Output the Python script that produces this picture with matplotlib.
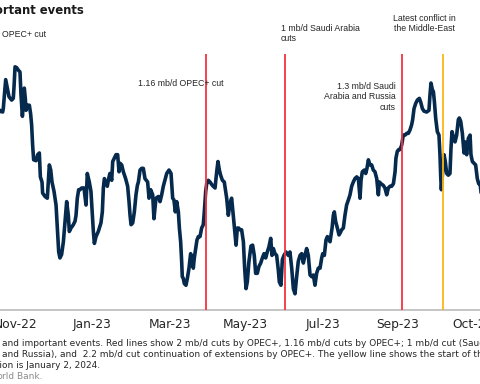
import numpy as np
import matplotlib
matplotlib.use('Agg')
import matplotlib.pyplot as plt

# Brent price, $/bbl. x = days since 2022-10-22
start = np.datetime64('2022-10-22')

days = [-20, -14, -10, -5,
        0.0, 2.1, 2.6, 4.5, 5.8, 7.1, 9.2, 10.5, 11.1, 11.9, 13.2, 14.5, 15.8, 16.6, 17.7,
        18.4, 19.2, 20.0, 20.6, 21.6, 23.2, 24.2, 25.0, 25.8, 26.6, 28.5, 29.8, 31.1, 31.9,
        33.2, 33.7, 35.6, 37.4, 39.0, 40.1, 41.1, 42.7, 44.3, 45.3, 46.4, 47.4, 48.7, 50.1,
        51.4, 52.7, 54.0, 54.8, 56.1, 58.0, 59.3, 60.1, 61.1, 62.2,
        63.2, 64.6, 66.4, 68.0, 69.0, 70.6, 71.9, 72.7, 73.8, 74.6, 75.9, 77.7, 79.8, 80.9,
        81.7, 82.5, 83.5, 84.8, 85.9, 86.9, 88.3, 89.1, 90.4, 91.7, 93.0, 94.1, 94.9, 96.2,
        97.5, 99.3, 100.9, 102.0, 102.8, 103.6, 104.9, 106.2, 107.5, 108.6, 109.4, 110.7,
        112.0, 113.3, 114.6, 116.7, 117.8, 119.1, 120.7, 121.7, 123.3, 125.2,
        126.5, 127.8, 129.1, 130.4, 131.8, 133.6, 135.2, 136.5, 137.5, 138.6, 139.7, 141.0,
        141.8, 142.8, 143.6, 144.1, 144.9, 145.7, 147.0, 148.1, 149.4, 150.7, 152.0, 152.8,
        153.6, 154.7, 155.7, 156.8, 158.1, 159.4, 160.7, 161.5, 162.6, 163.4, 164.7, 166.0,
        167.9, 170.0, 171.3, 172.3, 173.4, 174.4, 175.8, 177.3, 179.2, 180.5, 181.8, 183.1,
        184.4, 185.8, 186.6, 187.6, 188.7,
        189.7, 191.0, 192.4, 193.4, 194.5, 195.5, 196.8, 198.4, 199.7, 201.0, 202.1, 203.4,
        204.7, 206.1, 207.4, 208.7, 210.0, 211.3, 212.6, 214.0, 215.0, 216.1, 217.4, 218.7,
        220.0, 220.8, 222.1, 223.2, 224.5, 226.1, 227.9, 229.2, 230.6, 231.9, 233.2, 234.5,
        235.8, 237.2, 238.5, 239.8, 241.1, 242.4, 243.7, 245.1, 246.4, 247.7, 249.0, 250.3,
        251.6,
        253.0, 254.3, 255.1, 256.4, 257.7, 258.8, 260.9, 262.5, 263.5, 264.3, 265.3, 266.7,
        268.0, 268.8, 270.1, 271.4, 272.7, 274.0, 275.4, 276.7, 278.0, 279.3, 280.6, 282.0,
        283.3, 284.6, 285.4, 286.4, 288.0, 289.1, 290.1, 291.2, 292.5, 293.8, 295.1, 296.4,
        297.8, 299.1, 299.9, 301.2, 303.0, 304.3, 305.7, 307.0, 308.3, 309.6, 311.0, 312.3,
        313.0, 314.1, 315.2,
        316.2, 317.5, 318.8, 320.2, 321.5, 322.8, 324.1, 325.4, 326.2, 327.3, 328.6, 329.9,
        331.5, 332.5, 333.9, 335.2, 337.3, 339.1, 339.9, 340.7, 341.8, 342.6, 343.4, 344.4,
        345.7, 347.0, 347.8, 348.4, 348.9, 349.9, 351.0, 352.0, 353.1, 354.4, 355.7, 356.5,
        357.3, 358.4, 359.7, 361.0, 362.3, 363.1, 364.2, 365.5, 366.8, 367.6, 368.9, 370.2,
        371.6, 372.3, 373.4, 374.7, 376.0, 377.3, 378.4, 379.5,
        382, 390, 398, 405, 412, 416, 424, 430, 437]

brent = [93.4, 94.3, 92.5, 92.0,
         93.4, 93.2, 93.6, 97.0, 96.0, 95.0, 94.6, 94.8, 96.2, 98.5, 98.4, 98.1, 97.9, 95.2, 92.7,
         94.0, 96.0, 94.8, 93.4, 94.0, 94.0, 93.0, 91.7, 89.3, 87.6, 87.5, 88.2, 88.4, 85.6,
         85.0, 83.7, 83.3, 83.1, 87.0, 86.4, 85.0, 83.9, 82.3, 79.6, 76.8, 76.1, 76.5, 78.0,
         80.4, 82.7, 81.1, 79.2, 79.6, 80.0, 80.4, 81.1, 83.1, 84.1,
         84.1, 84.3, 84.3, 82.3, 86.0, 85.0, 83.9, 81.9, 79.2, 77.8, 78.6, 79.2, 80.2, 81.5,
         84.3, 85.4, 85.0, 84.5, 85.4, 86.0, 85.2, 87.4, 87.8, 88.2, 88.2, 86.2, 87.2, 87.0,
         86.2, 85.4, 84.5, 82.7, 81.1, 80.0, 80.2, 81.5, 83.5, 84.6, 85.0, 86.4,
         86.6, 86.6, 85.4, 85.0, 83.1, 84.1, 83.5, 80.7, 83.1, 83.3,
         82.7, 83.5, 84.5, 85.2, 86.0, 86.4, 86.0, 83.1, 82.9, 81.5, 82.7, 81.5,
         79.6, 78.0, 75.7, 73.9, 73.7, 73.1, 72.9, 73.7, 74.9, 76.6, 76.1, 74.9,
         76.1, 77.2, 78.2, 78.6, 78.6, 79.6, 80.0, 81.5, 83.9, 84.8, 85.2, 85.0,
         84.6, 84.3, 86.2, 87.4, 86.4, 85.8, 85.2, 85.0, 83.1, 81.1, 82.5, 83.1,
         81.1, 78.8, 77.6, 79.6, 79.6,
         79.4, 79.4, 78.0, 74.9, 72.5, 73.3, 75.7, 77.5, 77.6, 76.4, 74.3, 74.3,
         75.1, 75.5, 76.1, 76.6, 76.1, 76.8, 77.4, 78.4, 76.4, 77.2, 76.6, 76.4,
         74.7, 73.3, 72.9, 75.9, 76.4, 76.8, 76.4, 76.8, 74.9, 72.5, 71.9, 73.9,
         75.7, 76.4, 76.6, 75.5, 76.4, 77.2, 76.4, 74.1, 73.9, 74.1, 72.9, 74.3,
         74.9,
         74.9, 76.1, 76.6, 76.4, 78.2, 78.6, 78.0, 79.6, 81.1, 81.5, 80.4, 79.6,
         78.8, 79.0, 79.4, 79.6, 81.1, 82.3, 82.9, 83.5, 84.5, 85.0, 85.4, 85.6,
         85.4, 83.1, 85.2, 86.2, 86.4, 86.0, 86.6, 87.6, 87.0, 87.0, 86.4, 86.2,
         85.4, 83.5, 85.0, 84.8, 84.6, 84.3, 83.5, 84.3, 84.5, 84.5, 84.8, 86.2,
         87.8, 88.6, 88.8,
         88.8, 89.3, 90.5, 90.5, 90.7, 90.7, 91.1, 91.7, 92.3, 93.6, 94.2, 94.6,
         94.8, 94.4, 93.6, 93.3, 93.2, 93.4, 95.2, 96.6, 95.8, 95.6, 94.4, 92.5,
         90.9, 90.5, 88.2, 85.6, 84.1, 86.2, 88.2, 87.4, 86.0, 85.8, 86.0, 88.9,
         90.9, 90.3, 89.7, 90.5, 92.3, 92.5, 92.1, 90.7, 88.4, 89.7, 88.2, 90.1,
         90.5, 88.2, 87.4, 87.2, 87.0, 85.4, 84.8, 84.8,
         81.6, 77.4, 80.6, 78.9, 75.8, 73.2, 76.6, 79.1, 75.9]

red_events = ['2022-10-05', '2023-04-03', '2023-06-04', '2023-09-05']
yellow_event = '2023-10-07'

tick_dates = ['2022-11-03', '2023-01-03', '2023-03-05', '2023-05-04',
              '2023-07-04', '2023-09-01', '2023-10-31']
tick_labels = ['Nov-22', 'Jan-23', 'Mar-23', 'May-23', 'Jul-23', 'Sep-23', 'Oct-23']


def day_of(s):
    return int((np.datetime64(s) - start).astype(int))


W, H = 480, 384
PX_DAY = 1.265
x_lo, x_hi = -60, 437

def fx(px):
    return px / W

def fy(py):
    return 1 - py / H


fig = plt.figure(figsize=(4.8, 3.84), dpi=100)
ax = fig.add_axes([fx(x_lo * PX_DAY), fy(310), (x_hi - x_lo) * PX_DAY / W, 256 / H])
ax.set_xlim(x_lo, x_hi)
ax.set_ylim(70, 100)

ax.plot(days, brent, color='#062a4d', lw=2.6, solid_joinstyle='round', zorder=2)
for d in red_events:
    ax.axvline(day_of(d), color='#f4333f', lw=1.3, zorder=3)
ax.axvline(day_of(yellow_event), color='#fdb515', lw=1.3, zorder=3)

for s in ['top', 'left', 'right']:
    ax.spines[s].set_visible(False)
ax.spines['bottom'].set_color('#c0c0c0')
ax.spines['bottom'].set_linewidth(1.3)
ax.set_yticks([])
ax.set_xticks([day_of(t) for t in tick_dates])
ax.set_xticklabels(tick_labels, fontsize=8.8, color='#262626', family='DejaVu Sans')
ax.tick_params(axis='x', length=0, pad=6)

# title (cut off on the left in the reference)
fig.text(fx(84), fy(14), 'Brent oil prices and important events', ha='right', va='baseline',
         fontsize=8.4, fontweight='bold', color='#1a1a1a', family='DejaVu Sans')

ann = dict(fontsize=6.3, color='#262626', family='Liberation Sans')
fig.text(fx(46), fy(37), '2 mb/d OPEC+ cut', ha='right', va='baseline', **ann)
fig.text(fx(138), fy(86), '1.16 mb/d OPEC+ cut', ha='left', va='baseline', **ann)
fig.text(fx(281), fy(24), '1 mb/d Saudi Arabia\ncuts', ha='left', va='top',
         multialignment='left', **ann)
fig.text(fx(424), fy(14), 'Latest conflict in\nthe Middle-East', ha='center', va='top',
         multialignment='center', **ann)
fig.text(fx(396), fy(82), '1.3 mb/d Saudi\nArabia and Russia\ncuts', ha='right', va='top',
         multialignment='right', **ann)

# notes below the chart, clipped on both sides
NOTE_FS = 6.5
note = dict(fontsize=NOTE_FS, color='#262626', family='DejaVu Sans', va='baseline')
lines = [
    ('Note: Figure shows daily Brent oil prices ',
     'and important events. Red lines show 2 mb/d cuts by OPEC+, 1.16 mb/d cuts by OPEC+; '
     '1 mb/d cut (Saudi Arabia), 1.3 mb/d cut (Saudi Arabia', 346),
    ('(Saudi Arabia ',
     'and Russia), and  2.2 mb/d cut continuation of extensions by OPEC+. The yellow line '
     'shows the start of the Middle East conflict.', 357),
    ('Last observati', 'on is January 2, 2024.', 367.5),
]
for pre, vis, y in lines:
    fig.text(fx(2.5), fy(y), pre, ha='right', **note)
    fig.text(fx(2.5), fy(y), vis, ha='left', **note)
fig.text(fx(2.5), fy(379), 'Source: Wo', ha='right', fontsize=NOTE_FS, color='#8c8c8c',
         family='DejaVu Sans', va='baseline')
fig.text(fx(2.5), fy(379), 'rld Bank.', ha='left', fontsize=NOTE_FS, color='#8c8c8c',
         family='DejaVu Sans', va='baseline')

fig.savefig('out.png', dpi=100)
